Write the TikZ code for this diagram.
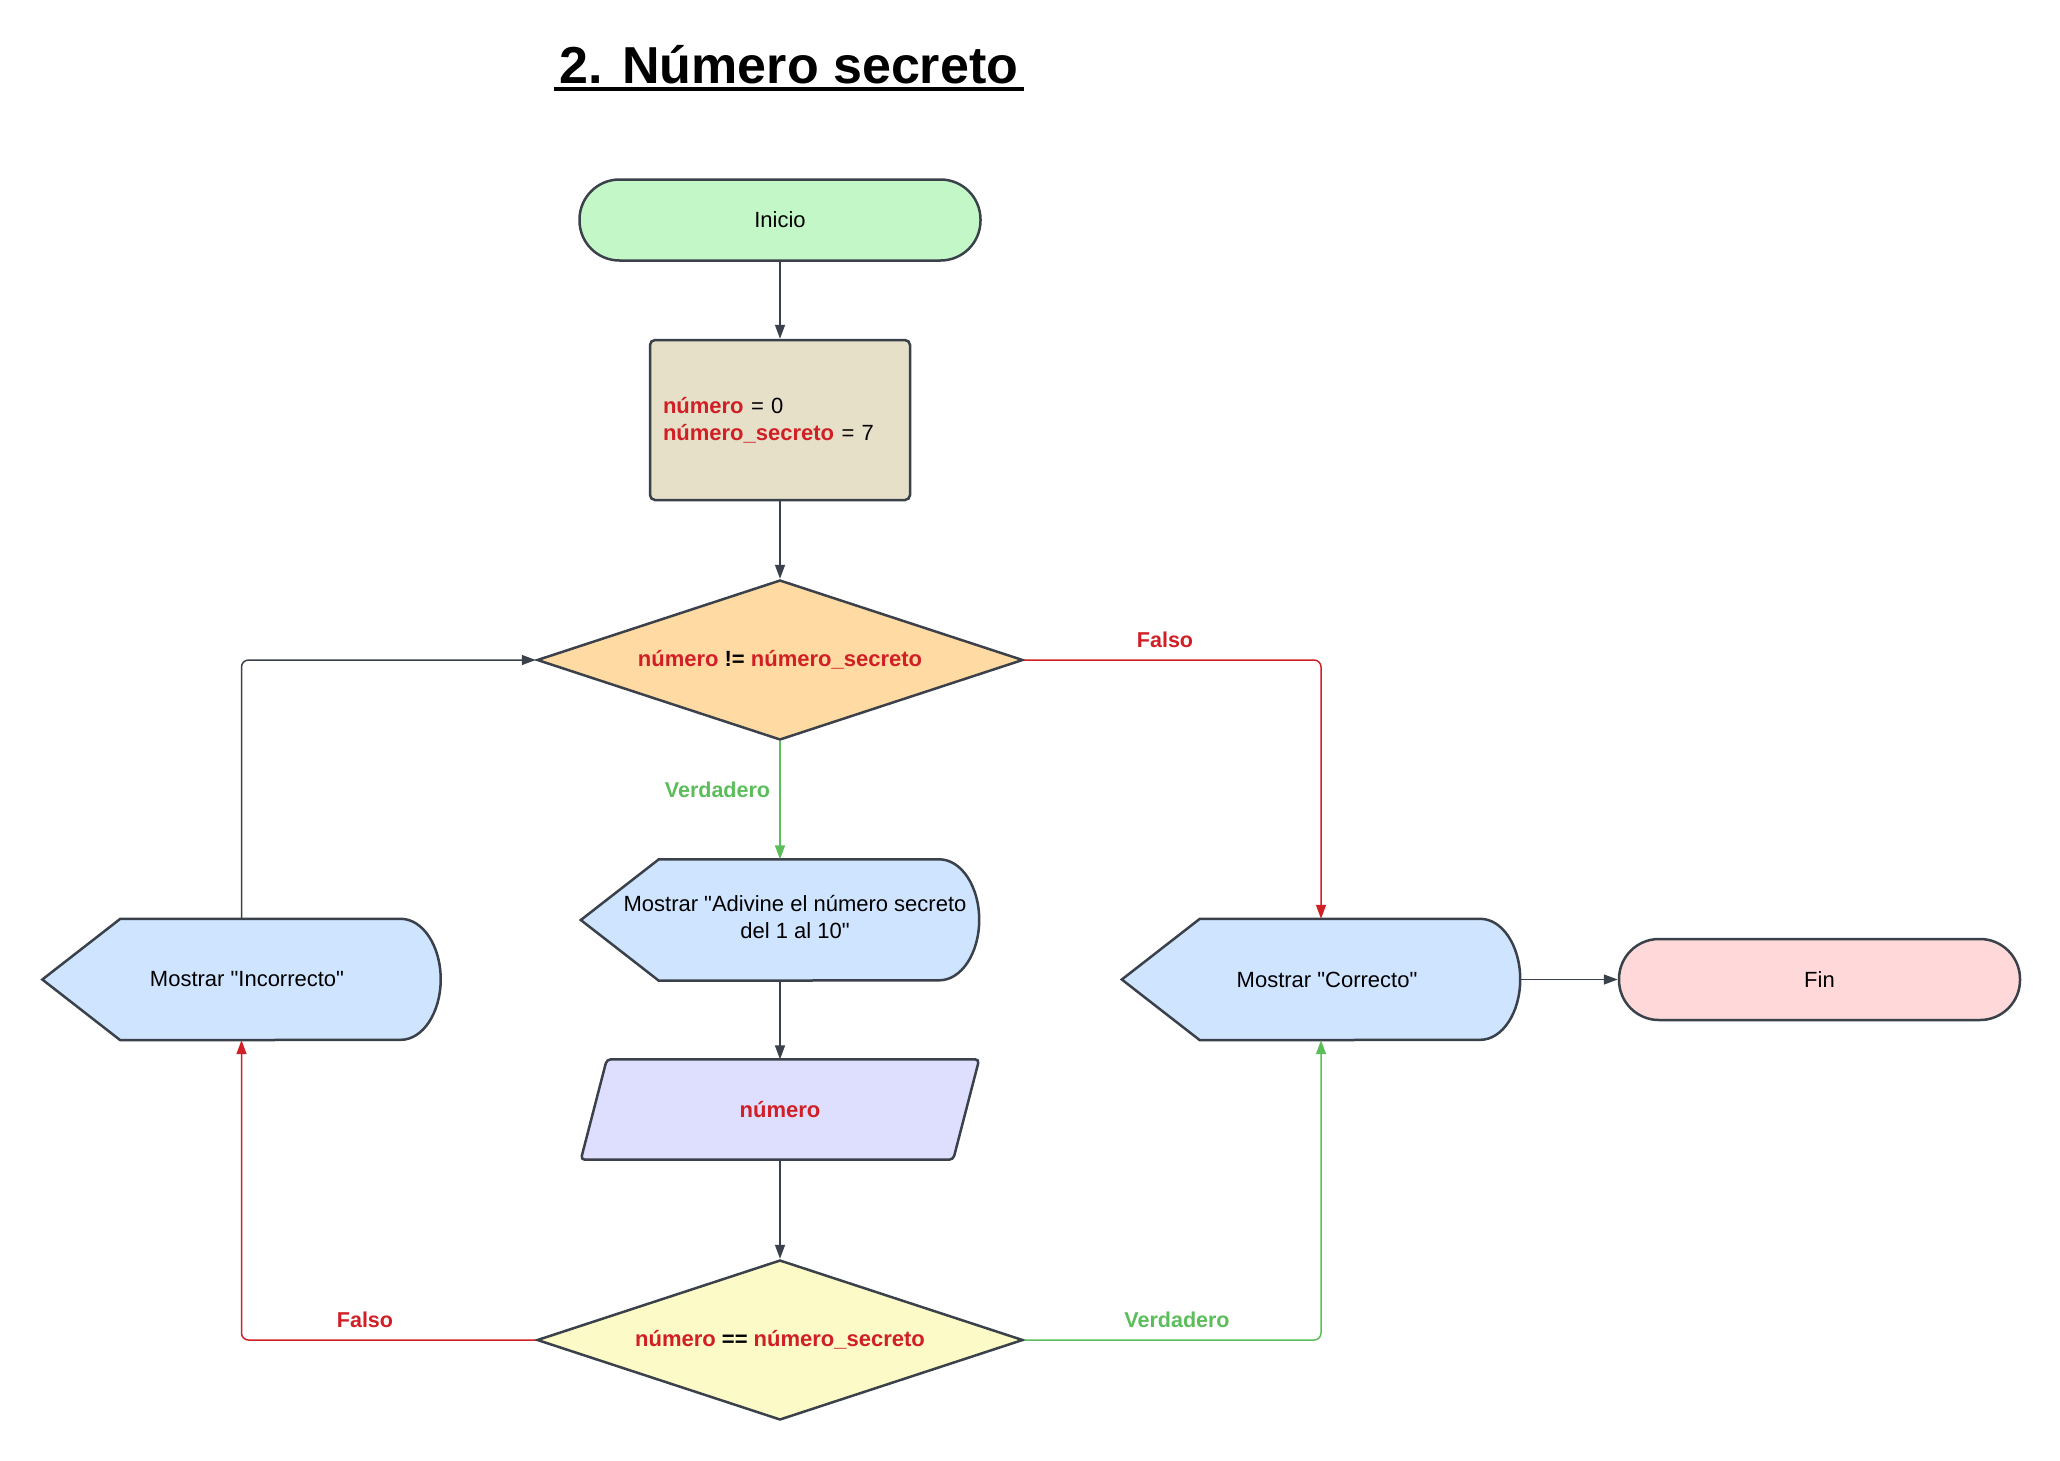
\documentclass[tikz,border=0pt]{standalone}
\usepackage{fontspec}
\setmainfont{Liberation Sans}[Ligatures=TeXOff]
\usetikzlibrary{arrows.meta,shapes.geometric,backgrounds,calc}
\definecolor{strokec}{HTML}{3A414A}
\definecolor{redc}{HTML}{D11F26}
\definecolor{greenc}{HTML}{5BBE5B}
\definecolor{fgreen}{HTML}{C3F7C8}
\definecolor{fbeige}{HTML}{E6E0C8}
\definecolor{forange}{HTML}{FFDAA3}
\definecolor{fblue}{HTML}{CFE4FF}
\definecolor{flav}{HTML}{DEDEFF}
\definecolor{fyellow}{HTML}{FCFAC6}
\definecolor{fpink}{HTML}{FFD8D9}
\newcommand\dispshape[2]{%
  \draw[shp, fill=#2] (#1.west) -- ([xshift=78pt]#1.north west) -- ([xshift=-40pt]#1.north east)
    arc[start angle=90, end angle=-90, x radius=40pt, y radius=60.5pt]
    -- ([xshift=78pt]#1.south west) -- cycle;}
\begin{document}
\begin{tikzpicture}[x=1pt,y=-1pt,
  every node/.style={font=\fontsize{22}{27}\selectfont, text=black},
  shp/.style={draw=strokec, line width=2.5pt},
  termbox/.style={shp, rounded corners=40pt, minimum width=401pt, minimum height=81pt, inner sep=0pt},
  procbox/.style={shp, rounded corners=5pt, minimum width=260pt, minimum height=160pt, text width=234pt, align=left, inner sep=0pt},
  decision/.style={shp, diamond, aspect=3.0375, minimum width=486pt, minimum height=160pt, inner sep=0pt, text=redc, font=\bfseries\fontsize{22}{27}\selectfont},
  dispnode/.style={minimum width=398pt, minimum height=121pt, inner sep=0pt},
  innode/.style={minimum width=398pt, minimum height=100pt, inner sep=0pt},
  conn/.style={line width=1.5pt, draw=strokec, -{Triangle[length=14pt,width=10pt]}, rounded corners=7pt},
  lbl/.style={font=\bfseries\fontsize{21.5}{26}\selectfont, inner sep=0pt}
]
\useasboundingbox (0,0) rectangle (2060,1460);

% title
\node[font=\bfseries\fontsize{52}{60}\selectfont, anchor=base, inner sep=0pt] (title) at (789,83) {2. Número secreto};
\draw[line width=4pt] ([yshift=-5.7pt,xshift=-6pt]title.base west) -- ([yshift=-5.7pt,xshift=6pt]title.base east);

% nodes
\node[termbox, fill=fgreen] (ini) at (780,220) {Inicio};
\node[procbox, fill=fbeige] (proc) at (780,420) {\textcolor{redc}{\bfseries número} = 0\\\textcolor{redc}{\bfseries número\_secreto} = 7};
\node[decision, fill=forange] (d1) at (780,660) {número \textcolor{black}{!=} número\_secreto};
\node[dispnode] (adiv) at (780,920) {\begin{tabular}{@{\hspace{30pt}}c@{}}Mostrar "Adivine el número secreto\\del 1 al 10"\end{tabular}};
\node[innode, text=redc, font=\bfseries\fontsize{22}{27}\selectfont] (inp) at (780,1109.5) {número};
\node[decision, fill=fyellow] (d2) at (780,1340) {número \textcolor{black}{==} número\_secreto};
\node[dispnode] (inc) at (241.5,979.5) {\hspace*{11pt}Mostrar "Incorrecto"};
\node[dispnode] (cor) at (1321,979.5) {\hspace*{12pt}Mostrar "Correcto"};
\node[termbox, fill=fpink] (fin) at (1819.5,979.5) {Fin};

\begin{scope}[on background layer]
  \dispshape{adiv}{fblue}
  \dispshape{inc}{fblue}
  \dispshape{cor}{fblue}
  \draw[shp, fill=flav, rounded corners=4pt] ([xshift=26pt]inp.north west) -- (inp.north east)
    -- ([xshift=-26pt]inp.south east) -- (inp.south west) -- cycle;
\end{scope}

% connectors
\draw[conn] (ini) -- (proc);
\draw[conn] (proc) -- (d1);
\draw[conn, draw=redc] (d1.east) -| (cor.north);
\draw[conn, draw=greenc] (d1.south) -- (adiv.north);
\draw[conn] (adiv.south) -- (inp.north);
\draw[conn] (inp.south) -- (d2.north);
\draw[conn, draw=redc] (d2.west) -| (inc.south);
\draw[conn, draw=greenc] (d2.east) -| (cor.south);
\draw[conn] (inc.north) |- (d1.west);
\draw[conn] (cor.east) -- (fin.west);

% labels
\node[lbl, text=redc] (lf1) at (1165,640) {Falso};
\node[lbl, text=greenc] (lv1) at (717.5,790) {Verdadero};
\node[lbl, text=redc] (lf2) at (365,1320) {Falso};
\node[lbl, text=greenc] (lv2) at (1177,1320) {Verdadero};
\end{tikzpicture}
\end{document}
